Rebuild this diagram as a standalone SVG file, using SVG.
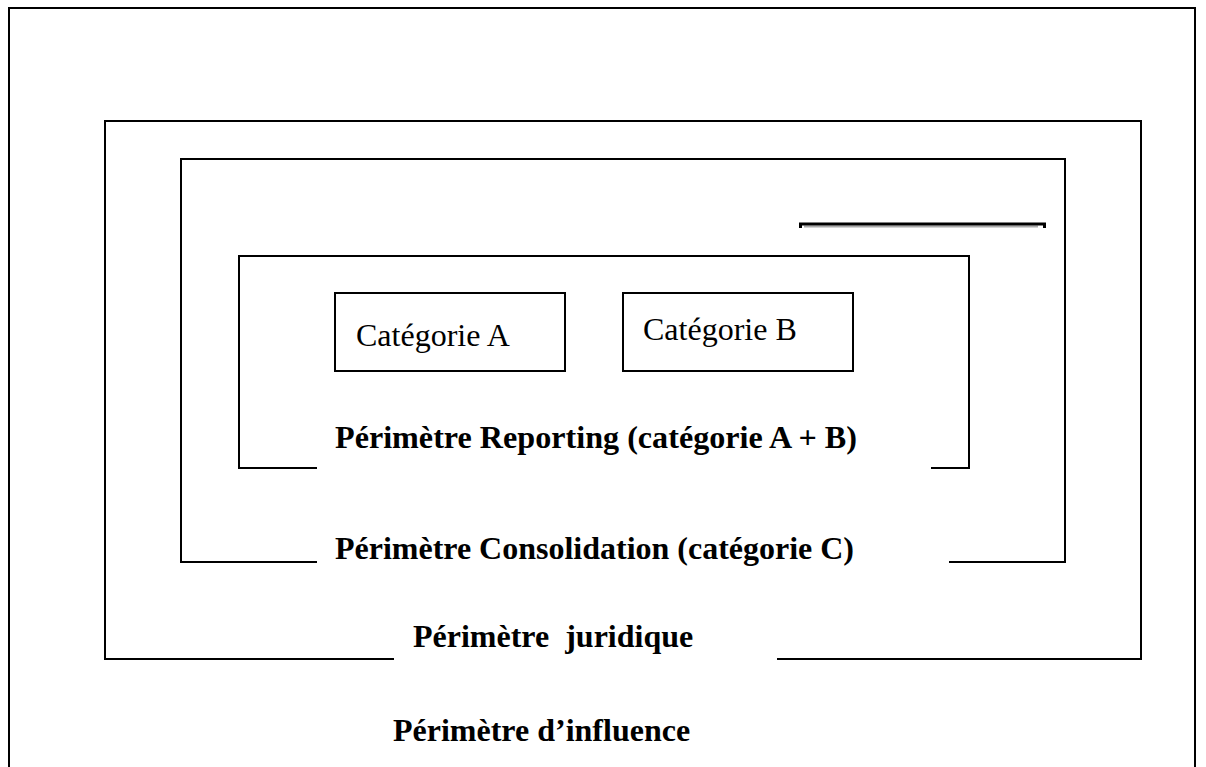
<svg xmlns="http://www.w3.org/2000/svg" width="1206" height="767" viewBox="0 0 1206 767">
<style>
.ln{fill:none;stroke:#000;stroke-width:2;stroke-linejoin:miter;stroke-linecap:square}
.bx{fill:#fff;stroke:#000;stroke-width:2}
.lb{font-family:"Liberation Serif","Times New Roman",serif;font-size:32px;font-weight:bold;fill:#000}
.cat{font-family:"Liberation Serif","Times New Roman",serif;font-size:32px;fill:#000}
</style>
<rect width="1206" height="767" fill="#fff"/>
<g id="influence">
<path class="ln" d="M9,780 V8 H1195 V780"/>
<text class="lb" x="393" y="741">Périmètre d’influence</text>
</g>
<g id="juridique">
<path class="ln" d="M393,659 H105 V121 H1141 V659 H778"/>
<text class="lb" x="413" y="647" xml:space="preserve">Périmètre  juridique</text>
</g>
<g id="consolidation">
<path class="ln" d="M316,562 H181 V159 H1065 V562 H950"/>
<text class="lb" x="335" y="559" textLength="519" lengthAdjust="spacingAndGlyphs">Périmètre Consolidation (catégorie C)</text>
</g>
<g id="reporting">
<path class="ln" d="M316,468 H239 V256 H969 V468 H932"/>
<text class="lb" x="335" y="448" textLength="522" lengthAdjust="spacingAndGlyphs">Périmètre Reporting (catégorie A + B)</text>
</g>
<g id="categorie-a">
<rect class="bx" x="335" y="293" width="230" height="78"/>
<text class="cat" x="356" y="346">Catégorie A</text>
</g>
<g id="categorie-b">
<rect class="bx" x="623" y="293" width="230" height="78"/>
<text class="cat" x="643" y="340">Catégorie B</text>
</g>
<g id="separator">
<line x1="804" y1="226.5" x2="1038" y2="226.5" stroke="#aaa" stroke-width="2"/>
<line x1="799" y1="224" x2="1046" y2="224" stroke="#000" stroke-width="3"/>
<rect x="799" y="224" width="3" height="4" fill="#000"/>
<rect x="1043" y="224" width="3" height="4" fill="#000"/>
</g>
</svg>
